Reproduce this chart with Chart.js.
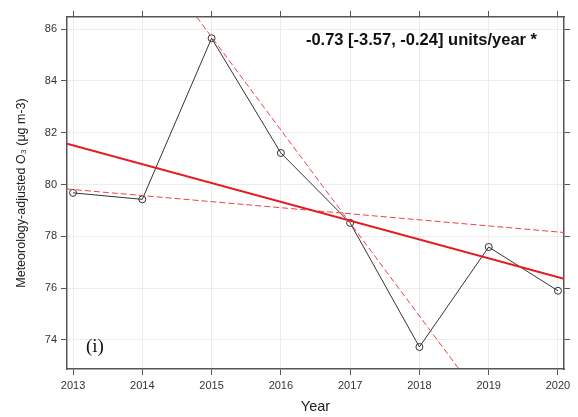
<!DOCTYPE html>
<html>
<head>
<meta charset="utf-8">
<script src="https://cdn.jsdelivr.net/npm/chart.js@4"></script>
<style>
  html, body { margin: 0; padding: 0; background: #fff; }
  #wrap { width: 578px; height: 417px; }
</style>
</head>
<body>
<div id="wrap"><canvas id="chart" width="578" height="417"></canvas></div>
<script>
// values
var years = [2013, 2014, 2015, 2016, 2017, 2018, 2019, 2020];
var o3 = [79.68, 79.43, 85.65, 81.22, 78.52, 73.73, 77.59, 75.90];
var yTicks = [74, 76, 78, 80, 82, 84, 86];

// trend line (solid) and its confidence limits (dashed), endpoints as read
var trendX = [2012.913, 2020.087];
var trendY = [81.58, 76.36];
var lowX = [2012.913, 2020.087];
var lowY = [79.83, 78.15];
var steepX = [2014.785, 2018.57];
var steepY = [86.47, 72.88];

var xMin = 2012.913, xMax = 2020.087;
var yMin = 72.88, yMax = 86.47;
var label = "-0.73 [-3.57, -0.24] units/year *";
var panel = "(i)";

function pts(xs, ys) {
  return xs.map(function (x, i) { return { x: x, y: ys[i] }; });
}

var frame = "#555";
var red = "#e8191f";
var pink = "#ee4048";

var notes = {
  id: "notes",
  afterDraw: function (chart) {
    var c = chart.ctx, a = chart.chartArea;
    c.save();
    c.fillStyle = "#111";
    c.font = "bold 16.5px 'Liberation Sans', Arial, sans-serif";
    c.textAlign = "right";
    c.textBaseline = "middle";
    c.fillText(label, a.right - 27, a.top + 23);
    c.font = "19px 'Liberation Serif', 'Times New Roman', serif";
    c.textAlign = "left";
    c.textBaseline = "alphabetic";
    c.fillText(panel, a.left + 19, a.bottom - 17);
    c.restore();
  }
};

function setTicks(list) {
  return function (s) { s.ticks = list.map(function (v) { return { value: v }; }); };
}

new Chart(document.getElementById("chart"), {
  type: "line",
  data: {
    datasets: [
      {
        data: pts(trendX, trendY),
        borderColor: red, borderWidth: 2, pointRadius: 0
      },
      {
        data: pts(lowX, lowY),
        borderColor: pink, borderWidth: 1, borderDash: [6, 3], pointRadius: 0
      },
      {
        data: pts(steepX, steepY),
        borderColor: pink, borderWidth: 1, borderDash: [6, 3], pointRadius: 0
      },
      {
        data: pts(years, o3),
        borderColor: "#333", borderWidth: 1,
        pointRadius: 3.5, pointBorderColor: "#333", pointBorderWidth: 1,
        pointBackgroundColor: "rgba(0,0,0,0)"
      }
    ]
  },
  plugins: [notes],
  options: {
    responsive: false,
    animation: false,
    events: [],
    layout: { padding: { left: 0, top: 11, right: 8, bottom: 0 } },
    plugins: { legend: { display: false }, tooltip: { enabled: false } },
    scales: {
      x: {
        type: "linear", min: xMin, max: xMax,
        afterBuildTicks: setTicks(years),
        afterFit: function (s) { s.height = 48; },
        border: { color: frame, width: 1.5 },
        grid: { color: "#ececec", tickColor: frame, tickLength: 6 },
        ticks: {
          color: "#333", padding: 4,
          font: { size: 11, family: "'Liberation Sans', Arial, sans-serif" },
          callback: function (v) { return String(v); }
        },
        title: {
          display: true, text: "Year", color: "#222",
          font: { size: 14.5, family: "'Liberation Sans', Arial, sans-serif" },
          padding: { top: 0, bottom: 1 }
        }
      },
      x2: {
        type: "linear", position: "top", min: xMin, max: xMax,
        afterBuildTicks: setTicks(years),
        afterFit: function (s) { s.height = 6; },
        border: { color: frame, width: 1.5 },
        grid: { drawOnChartArea: false, tickColor: frame, tickLength: 6 },
        ticks: { display: false }
      },
      y: {
        type: "linear", min: yMin, max: yMax,
        afterBuildTicks: setTicks(yTicks),
        afterFit: function (s) { s.width = 67; },
        border: { color: frame, width: 1.5 },
        grid: { color: "#ececec", tickColor: frame, tickLength: 6 },
        ticks: {
          color: "#333", padding: 4,
          font: { size: 11, family: "'Liberation Sans', Arial, sans-serif" }
        },
        title: {
          display: true, text: "Meteorology-adjusted O\u2083 (\u03bcg m-3)", color: "#222",
          font: { size: 12.5, family: "'Liberation Sans', Arial, sans-serif" },
          padding: { top: 14, bottom: 0 }
        }
      },
      y2: {
        type: "linear", position: "right", min: yMin, max: yMax,
        afterBuildTicks: setTicks(yTicks),
        afterFit: function (s) { s.width = 6; },
        border: { color: frame, width: 1.5 },
        grid: { drawOnChartArea: false, tickColor: frame, tickLength: 6 },
        ticks: { display: false }
      }
    }
  }
});
</script>
</body>
</html>
